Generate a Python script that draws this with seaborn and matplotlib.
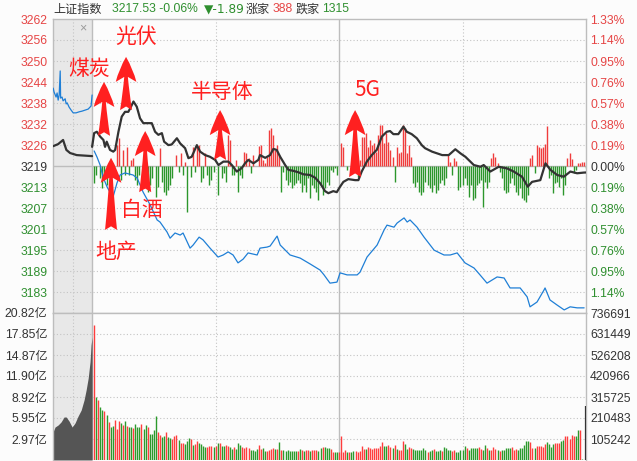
import matplotlib
matplotlib.use("Agg")
import matplotlib.pyplot as plt
import seaborn as sns

# ==========================================
# DATA
# ==========================================
prev_close = 3219.42

# price grid: percent levels, left labels (index) and right labels (%)
pct_levels = [1.33, 1.14, 0.95, 0.76, 0.57, 0.38, 0.19, 0.00,
              -0.19, -0.38, -0.57, -0.76, -0.95, -1.14]
price_labels = ["3262", "3256", "3250", "3244", "3238", "3232", "3226", "3219",
                "3213", "3207", "3201", "3195", "3189", "3183"]
pct_labels = ["1.33%", "1.14%", "0.95%", "0.76%", "0.57%", "0.38%", "0.19%", "0.00%",
              "0.19%", "0.38%", "0.57%", "0.76%", "0.95%", "1.14%"]

# volume grid (亿 on the left, 手 on the right)
vol_levels = [20.82, 17.85, 14.87, 11.90, 8.92, 5.95, 2.97]
vol_right_labels = ["736691", "631449", "526208", "420966", "315725", "210483", "105242"]

# header
header_name = "上证指数"
header_quote = "3217.53 -0.06%"
header_change = "▼-1.89"
up_count = "388"
down_count = "1315"

# minutes from 9:30 (negative = call auction 9:15-9:25)
black_pre_t = [-18.9, -16.5, -14.1, -12.5, -10.7, -7.5, 0]
black_pre_p = [3225.2, 3225.8, 3227.0, 3224.1, 3223.2, 3222.6, 3222.3]

black_t = [0, 1, 2.3, 3.9, 5.5, 6.3, 7.1, 8.7, 10.3, 11.2,
           12.8, 14.4, 16.0, 17.6, 18.5, 20.1, 21.7, 23.3, 24.9, 29.0,
           30.6, 32.2, 33.9, 35.0, 37.1, 38.7, 41.2, 42.8, 45.2, 46.8,
           48.4, 50.9, 52.5, 54.9, 57.3, 59.8, 61.4, 63.8, 66.2, 67.9,
           70.3, 72.7, 74.3, 75.9, 78.4, 80.8, 81.6, 84.1, 86.5, 88.1,
           89.7, 91.4, 93.8, 95.4, 97.8, 100.2, 102.7, 105.9, 108.4, 110.8,
           113.2, 114.8, 117.2, 118.9, 120.5, 122.1, 124.5, 127.8, 129.4, 131.0,
           133.5, 135.9, 138.3, 140.8, 143.2, 144.8, 146.4, 148.8, 151.3, 152.9,
           155.3, 157.8, 160.2, 161.8, 165.2, 170.1, 173.3, 176.5, 179.0, 181.4,
           185.5, 188.7, 190.3, 193.5, 197.6, 201.7, 204.9, 208.9, 211.7, 213.8,
           217.8, 220.3, 222.7, 226.0, 229.2, 232.4, 235.7, 238.9, 240]
black_p = [3225.0, 3229.0, 3229.4, 3228.0, 3227.0, 3225.0, 3226.5, 3224.1, 3223.6, 3224.1,
           3229.4, 3233.8, 3235.2, 3235.2, 3236.2, 3238.2, 3236.7, 3233.3, 3231.9, 3231.9,
           3229.4, 3228.5, 3229.0, 3226.5, 3225.5, 3225.7, 3227.5, 3226.0, 3224.6, 3221.7,
           3222.1, 3225.5, 3223.6, 3222.6, 3222.1, 3221.2, 3219.7, 3220.7, 3220.7, 3219.7,
           3217.8, 3218.8, 3220.2, 3221.2, 3220.2, 3221.2, 3222.6, 3221.8, 3222.6, 3224.4,
           3224.1, 3222.1, 3219.7, 3218.3, 3218.0, 3217.6, 3217.0, 3216.8, 3216.0, 3214.4,
           3212.1, 3211.5, 3212.1, 3211.8, 3213.4, 3214.8, 3215.6, 3215.3, 3215.3, 3217.8,
           3220.7, 3222.6, 3224.1, 3228.0, 3229.4, 3229.6, 3228.7, 3228.7, 3230.9, 3229.4,
           3228.7, 3227.5, 3225.5, 3224.6, 3223.6, 3222.6, 3222.6, 3224.3, 3223.1, 3222.1,
           3219.7, 3219.2, 3219.7, 3217.8, 3219.2, 3218.7, 3217.8, 3216.3, 3213.4, 3214.8,
           3215.3, 3220.2, 3218.3, 3216.8, 3216.3, 3217.8, 3217.3, 3217.5, 3217.53]

blue_pre_t = [-18.9, -18.5, -17.5, -17.0, -16.5, -16.0, -15.5, -15.3, -14.6, -14.1,
              -13.1, -12.6, -12.1, -11.2, -10.2, -9.2, -7.8, -6.3, -4.9, -3.4,
              -1.9, -0.5, 0]
blue_pre_p = [3242.1, 3241.0, 3239.5, 3240.7, 3238.6, 3240.1, 3247.1, 3239.2, 3239.5, 3238.4,
              3239.0, 3237.5, 3237.8, 3236.6, 3235.7, 3234.9, 3234.9, 3235.2, 3235.4, 3235.7,
              3236.0, 3236.9, 3240.1]

blue_t = [1.0, 2.4, 3.9, 5.3, 7.3, 8.7, 10.2, 12.1, 13.6, 16.0,
          19.9, 21.9, 24.8, 28.2, 31.6, 33.0, 36.4, 37.9, 40.3, 42.8,
          44.2, 47.6, 49.1, 52.0, 53.9, 57.3, 61.2, 63.7, 66.1, 68.5,
          70.9, 73.4, 75.8, 80.2, 81.6, 85.0, 86.5, 89.9, 91.4, 96.2,
          101.1, 105.9, 110.8, 112.7, 115.6, 119.0, 120.5, 123.9, 128.8, 130.2,
          133.6, 138.5, 141.9, 143.3, 146.7, 148.2, 151.6, 153.1, 154.5, 157.9,
          161.3, 166.2, 171.0, 174.0, 177.4, 181.2, 185.6, 188.5, 191.9, 196.8,
          200.2, 203.1, 208.0, 211.4, 212.8, 216.2, 219.6, 220.1, 222.5, 226.0,
          229.4, 232.3, 235.7, 239.1]
blue_p = [3223.8, 3222.0, 3219.7, 3216.2, 3213.3, 3211.8, 3210.4, 3214.5, 3216.8, 3217.4,
          3216.8, 3215.9, 3211.8, 3208.1, 3203.7, 3203.1, 3200.2, 3198.4, 3199.9, 3199.3,
          3199.9, 3195.5, 3196.4, 3198.7, 3197.9, 3195.5, 3192.9, 3193.5, 3194.4, 3193.5,
          3191.2, 3192.3, 3194.1, 3193.5, 3195.5, 3195.8, 3196.1, 3199.0, 3196.4, 3193.5,
          3192.6, 3190.9, 3189.1, 3187.7, 3185.3, 3185.6, 3188.3, 3187.7, 3187.7, 3188.5,
          3192.9, 3196.4, 3200.8, 3202.2, 3201.6, 3202.8, 3204.3, 3203.1, 3203.7, 3201.6,
          3198.7, 3194.9, 3193.5, 3193.5, 3194.1, 3191.2, 3189.7, 3187.7, 3185.3, 3187.1,
          3186.8, 3183.9, 3183.9, 3181.3, 3178.4, 3179.8, 3183.3, 3183.9, 3180.4, 3178.9,
          3177.5, 3178.4, 3178.1, 3178.1]

# buy/sell strength bars around the previous close, one per minute 0..240
strength = [0, -17, -9, 0, -12, -22, -12, -19, 0, -9,
            0, 0, 21, 28, -14, 16, -9, 19, -9, 6,
            8, -14, -19, -9, 0, -22, -12, -26, -19, -12,
            0, -31, -21, 18, -16, -26, -29, -24, -19, -12,
            0, 11, -6, 13, -9, 4, -46, 0, -11, 19,
            -6, 19, 21, -16, -12, 13, -9, -19, -14, -6,
            0, -29, 0, -12, -7, -16, 31, 26, -9, -9,
            6, -26, -9, -12, 14, 13, 8, -7, 11, 0,
            0, 20, 21, 6, 3, 9, 36, 38, 31, 16,
            21, 11, -26, -6, -14, -19, -16, -22, -19, -17,
            -14, -17, -26, -19, -26, -12, -32, -19, -22, -26,
            -34, -19, -29, -22, -16, -19, -4, -6, -2, -9,
            0, 23, 19, 0, -4, 0, 0, 0, 14, -11,
            6, 29, 29, 33, 19, 26, 21, 23, 14, 31,
            41, 41, 23, 33, 24, 16, 9, -16, 19, 13,
            14, 41, 38, 13, 21, 9, -17, -21, -16, -26,
            -29, -26, -16, -19, -22, -26, -19, -27, -24, -17,
            -14, -19, -12, 11, 4, -9, 8, 5, -24, -21,
            -19, -12, -19, -31, -19, -34, -32, -19, -17, -14,
            -41, -16, -22, -16, 8, 13, 9, 3, -6, -12,
            -24, -27, -26, -17, -12, -19, -26, -29, -22, -32,
            -34, -36, -29, 8, 11, -7, 21, 19, 18, 19,
            22, 40, -12, -9, -27, -17, -16, -21, -12, -29,
            -19, 8, 13, 7, -7, -4, 3, 3, 4, 4,
            -2]
strength_to_pts = 0.29

# call auction volume (亿)
pre_vol_t = [-19, -18, -16.5, -15.1, -13.6, -12.6, -11.2, -9.7, -8.3, -6.8,
             -5.3, -3.9, -2.9, -1.9, -1.0, -0.5, 0]
pre_vol = [3.96, 4.67, 4.96, 5.38, 6.09, 6.09, 5.52, 4.67, 5.24, 6.23,
           7.08, 8.50, 9.91, 11.6, 13.9, 16.3, 17.4]

# minute volume (亿), minutes 1..238, and up/down colour code
volume = [19.1, 8.92, 8.50, 7.51, 7.08, 6.94, 6.37, 5.38, 4.67, 4.81,
          5.66, 4.39, 5.52, 5.24, 4.96, 5.52, 4.81, 4.67, 4.67, 4.53,
          5.10, 4.67, 4.67, 5.10, 4.39, 4.96, 4.67, 3.68, 3.68, 4.25,
          6.23, 3.96, 3.54, 3.26, 3.40, 3.96, 3.26, 3.12, 2.97, 3.40,
          3.54, 2.83, 2.41, 2.41, 2.27, 2.69, 3.12, 2.97, 2.12, 2.27,
          2.69, 2.41, 2.27, 1.98, 1.84, 1.84, 1.98, 1.98, 1.84, 1.98,
          2.41, 2.41, 1.98, 1.98, 2.12, 1.98, 1.84, 1.56, 1.84, 1.56,
          2.41, 2.12, 1.84, 1.70, 1.84, 1.70, 1.42, 1.42, 1.27, 1.56,
          2.12,
          1.56, 1.70, 1.27, 1.27, 1.42, 1.56, 1.70, 1.56, 1.56, 2.55,
          1.42, 1.42, 1.27, 1.42, 1.27, 1.27, 1.27, 1.27, 1.27, 1.56,
          1.42, 1.27, 1.42, 1.42, 1.27, 1.42, 1.42, 1.42, 1.27, 1.70,
          1.84, 1.84, 1.70, 1.70, 1.56, 1.13, 1.13, 1.13, 1.13, 3.40,
          1.13, 1.42, 1.13, 1.13, 1.13, 1.27, 1.27, 1.13, 1.27, 1.98,
          1.56, 1.56, 1.84, 1.70, 1.56, 1.70, 1.70, 1.70, 1.98, 2.55,
          1.98, 1.98, 2.12, 1.84, 1.70, 2.12, 1.56, 1.42, 1.42, 2.69,
          2.27, 1.56, 1.84, 1.70, 1.56, 1.42, 1.42, 1.42, 1.42, 1.70,
          1.42, 1.13, 1.27, 1.42, 1.56, 1.27, 1.27, 1.42, 1.27, 1.84,
          1.70, 1.42, 1.42, 1.27, 1.42, 1.13, 1.13, 1.42, 1.42, 1.98,
          1.70, 1.42, 1.70, 1.70, 1.70, 1.70, 1.84, 1.56, 1.42, 2.12,
          1.70, 1.42, 1.42, 1.84, 1.56, 1.42, 1.27, 1.42, 1.42, 1.70,
          1.70, 1.70, 1.84, 1.42, 1.56, 1.42, 1.70, 1.70, 2.12, 2.69,
          2.69, 2.55, 1.70, 1.70, 1.98, 1.98, 1.98, 1.84, 2.27, 2.55,
          2.27, 1.84, 2.27, 2.41, 2.41, 2.41, 2.69, 2.83, 3.40, 3.40,
          2.97, 3.54, 3.40, 3.40, 4.25, 4.25, 0.14]
volume_dir = ("RGRGGRGRGG" "RRRGRGRGGR" "GGGRGGRGGG" "GRRGGRGGRR" "RGRRGGGRGR"
              "RGGGGRRRGR" "GRGGRRGGRG" "GGRRRRGGGG" "R"
              "RGGRRRRGRG" "RGGGGGGGRG" "RGRRGRRRGG" "RGGGRRGGRR" "RRGRGGRRRR"
              "RGRRRRRRRR" "GGRRGRGRRR" "GGRRGGGGGG"
              "GRGGRGGGRG" "GGGRRGGGGG" "RGGGGGRRGG" "RGRRRGRGGG" "GGRRRGGGGG"
              "GRRGRRRRRG" "GGGRRRGGRR" "RRRGGRG")
close_vol = 7.62   # closing auction bar at 15:00

# sector call-outs: label, tip (min, price), tail (min, price), label position
callouts = [
    ("煤炭", 5.8, 3243.9, 5.8, 3228.2, -1.5, 3247.7),
    ("光伏", 16.5, 3251.2, 16.5, 3235.7, 21.4, 3257.0),
    ("半导体", 62.2, 3235.7, 62.2, 3221.2, 63.2, 3241.0),
    ("5G", 127.8, 3235.7, 127.8, 3216.2, 133.6, 3241.6),
    ("白酒", 25.8, 3229.6, 25.8, 3211.8, 24.3, 3206.6),
    ("地产", 9.2, 3221.8, 9.2, 3200.8, 11.7, 3194.4),
]

# ==========================================
# STYLE
# ==========================================
sns.set_theme(style="white")
plt.rcParams['font.family'] = ['Liberation Sans', 'Noto Sans CJK SC', 'DejaVu Sans']
cjk = ['Noto Sans CJK SC', 'DejaVu Sans']

RED = '#f03c3c'
GREEN = '#2c962c'
LBL_RED = '#e64545'
LBL_GREEN = '#2f8f2f'
DARK = '#333333'
GRID = '#c4c4c4'
FRAME = '#bdbdbd'
BG = '#fcfcfc'

W, H = 637, 461
fig = plt.figure(figsize=(W / 100, H / 100), dpi=100)
fig.patch.set_facecolor(BG)
ax = fig.add_axes([53 / W, 148 / H, 533 / W, 294 / H])
axv = fig.add_axes([53 / W, 1 / H, 533 / W, 147 / H])

levels = [prev_close * (1 + p / 100) for p in pct_levels]
lo = prev_close * (1 - 0.0133)
hi = prev_close * (1 + 0.0133)

for a in (ax, axv):
    a.set_facecolor(BG)
    a.set_xlim(-19, 240)
    a.axvspan(-19, 0, color='#e8e8e8', lw=0, zorder=0)
    for xv, solid in [(-9.5, False), (0, True), (60, False), (120, True), (180, False)]:
        a.axvline(xv, color=FRAME if solid else GRID, lw=1.0 if solid else 0.8,
                  ls='-' if solid else (0, (1, 2)), zorder=1)
    a.set_xticks([])
    for s in a.spines.values():
        s.set_color(FRAME)
        s.set_linewidth(1.0)
axv.spines['bottom'].set_visible(False)

# ---------------- price panel ----------------
ax.set_ylim(lo, hi)
for lv, p in zip(levels[1:], pct_levels[1:]):
    if p == 0:
        ax.axhline(lv, color=FRAME, lw=1.0, zorder=1)
    else:
        ax.axhline(lv, color=GRID, lw=0.8, ls=(0, (1, 2)), zorder=1)

bar_t = list(range(len(strength)))
bar_top = [prev_close + s * strength_to_pts for s in strength]
bar_col = [RED if s > 0 else GREEN for s in strength]
ax.vlines(bar_t, prev_close, bar_top, colors=bar_col, lw=1.0, zorder=2)

sns.lineplot(x=black_pre_t, y=black_pre_p, ax=ax, color=DARK, lw=1.6, sort=False, estimator=None, zorder=4)
sns.lineplot(x=black_t, y=black_p, ax=ax, color=DARK, lw=1.6, sort=False, estimator=None, zorder=4)
sns.lineplot(x=blue_pre_t, y=blue_pre_p, ax=ax, color='#1f7fd6', lw=0.9, sort=False, estimator=None, zorder=3)
sns.lineplot(x=blue_t, y=blue_p, ax=ax, color='#1f7fd6', lw=0.9, sort=False, estimator=None, zorder=3)
ax.set_xlabel('')
ax.set_ylabel('')

ax.text(-4.4, 3259.6, '×', color='#9a9a9a', fontsize=9, ha='center', va='center', zorder=5)

for label, xt, yt, xs, ys, lx, ly in callouts:
    ax.annotate('', xy=(xt, yt), xytext=(xs, ys),
                arrowprops=dict(arrowstyle='fancy,head_length=0.75,head_width=0.62,tail_width=0.36',
                                mutation_scale=24, fc='#ff2020', ec='none',
                                shrinkA=0, shrinkB=0), zorder=6)
    ax.text(lx, ly, label, color='#ff2020', fontsize=15, ha='center', va='center',
            family=cjk, zorder=7)

def tick_color(p):
    if p > 0:
        return LBL_RED
    if p < 0:
        return LBL_GREEN
    return DARK

ax.set_yticks(levels)
ax.set_yticklabels(price_labels)
ax.tick_params(axis='y', length=0, pad=4, labelsize=8.7)
for t, p in zip(ax.get_yticklabels(), pct_levels):
    t.set_color(tick_color(p))

axr = ax.twinx()
axr.set_ylim(lo, hi)
axr.set_yticks(levels)
axr.set_yticklabels(pct_labels)
axr.tick_params(axis='y', length=0, pad=3, labelsize=8.7)
for t, p in zip(axr.get_yticklabels(), pct_levels):
    t.set_color(tick_color(p))
for s in axr.spines.values():
    s.set_visible(False)

# ---------------- volume panel ----------------
axv.set_ylim(0, 20.82)
for lv in vol_levels[1:]:
    axv.axhline(lv, color=GRID, lw=0.8, ls=(0, (1, 2)), zorder=1)
axv.fill_between(pre_vol_t, 0, pre_vol, color='#555555', lw=0, zorder=2)
vol_t = list(range(1, len(volume) + 1))
vol_col = ['#ff3d3d' if d == 'R' else '#2c9a2c' for d in volume_dir]
axv.vlines(vol_t, 0, volume, colors=vol_col, lw=1.0, zorder=2)
axv.vlines([240], 0, [close_vol], colors='#333333', lw=1.6, zorder=3)

axv.set_yticks(vol_levels)
axv.set_yticklabels([f"{v:.2f}亿" for v in vol_levels])
axv.tick_params(axis='y', length=0, pad=4, labelsize=8.7, labelcolor=DARK)
axvr = axv.twinx()
axvr.set_ylim(0, 20.82)
axvr.set_yticks(vol_levels)
axvr.set_yticklabels(vol_right_labels)
axvr.tick_params(axis='y', length=0, pad=3, labelsize=8.7, labelcolor=DARK)
for s in axvr.spines.values():
    s.set_visible(False)

# ---------------- header ----------------
hy = (H - 9) / H
fig.text(53 / W, hy, header_name, color=DARK, fontsize=8.7, va='center', family=cjk)
fig.text(112 / W, hy, header_quote, color=LBL_GREEN, fontsize=8.7, va='center')
fig.text(204 / W, hy, header_change, color=LBL_GREEN, fontsize=8.7, va='center', family=['DejaVu Sans'])
fig.text(246 / W, hy, "涨家", color=DARK, fontsize=8.7, va='center', family=cjk)
fig.text(273 / W, hy, up_count, color=LBL_RED, fontsize=8.7, va='center')
fig.text(296 / W, hy, "跌家", color=DARK, fontsize=8.7, va='center', family=cjk)
fig.text(322 / W, hy, down_count, color=LBL_GREEN, fontsize=8.7, va='center')

fig.savefig("out.png", dpi=100, facecolor=fig.get_facecolor())
